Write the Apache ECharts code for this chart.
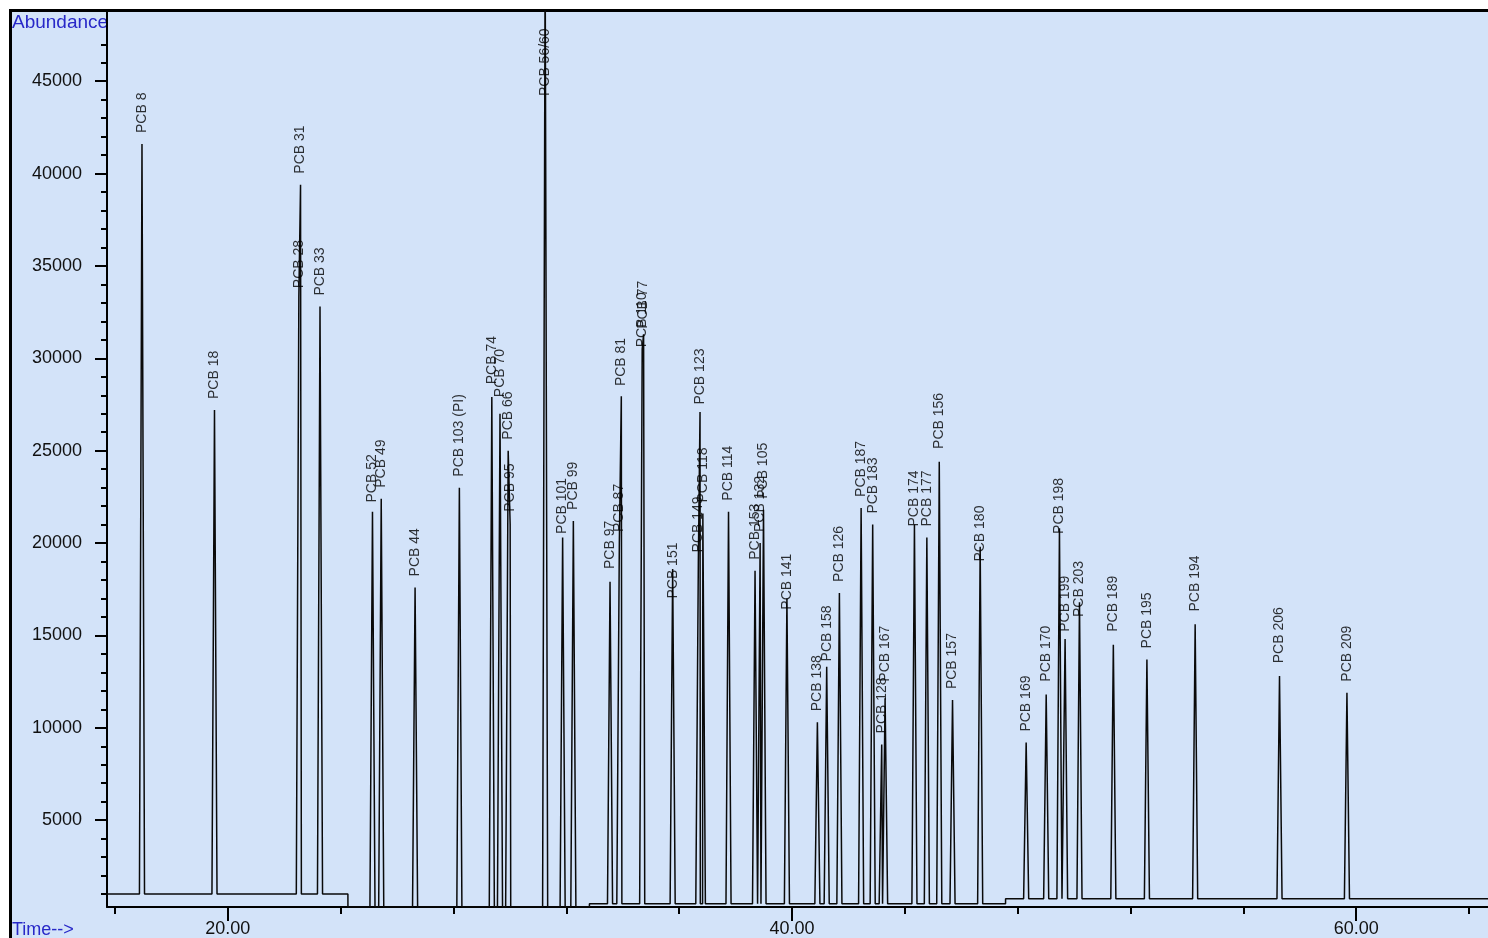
<!DOCTYPE html>
<html>
<head>
<meta charset="utf-8">
<script src="https://cdn.jsdelivr.net/npm/echarts@6/dist/echarts.min.js"></script>
<style>
  html, body { margin: 0; padding: 0; background: #ffffff; overflow: hidden; }
  #frame {
    position: absolute; left: 9px; top: 9px; width: 1500px; height: 950px;
    background: #d3e3f9; border-left: 3px solid #000; border-top: 3px solid #000;
  }
  #chart { position: absolute; left: 0; top: 0; width: 1488px; height: 938px; }
</style>
</head>
<body>
<div id="frame"></div>
<div id="chart"></div>
<script>
// Named congener peaks: label, retention time (min), apex abundance of the trace,
// and the abundance at which the software wrote each name
const peakNames = [
  'PCB 8', 'PCB 18', 'PCB 28', 'PCB 31', 'PCB 33', 'PCB 52', 'PCB 49', 'PCB 44',
  'PCB 103 (PI)', 'PCB 74', 'PCB 70', 'PCB 66', 'PCB 95', 'PCB 56/60', 'PCB 101',
  'PCB 99', 'PCB 97', 'PCB 87', 'PCB 81', 'PCB 110', 'PCB 77', 'PCB 151', 'PCB 149',
  'PCB 123', 'PCB 118', 'PCB 114', 'PCB 153', 'PCB 132', 'PCB 105', 'PCB 141',
  'PCB 138', 'PCB 158', 'PCB 126', 'PCB 187', 'PCB 183', 'PCB 128', 'PCB 167',
  'PCB 174', 'PCB 177', 'PCB 156', 'PCB 157', 'PCB 180', 'PCB 169', 'PCB 170',
  'PCB 198', 'PCB 199', 'PCB 203', 'PCB 189', 'PCB 195', 'PCB 194', 'PCB 206', 'PCB 209'
];
const peakTimes = [
  16.96, 19.53, 22.52, 22.58, 23.27, 25.13, 25.44, 26.64,
  28.21, 29.36, 29.65, 29.94, 30.01, 31.25, 31.87,
  32.25, 33.55, 33.88, 33.95, 34.69, 34.74, 35.77, 36.68,
  36.74, 36.84, 37.75, 38.69, 38.87, 38.99, 39.82,
  40.90, 41.23, 41.68, 42.45, 42.86, 43.18, 43.30,
  44.34, 44.78, 45.22, 45.69, 46.67, 48.30, 49.01,
  49.48, 49.68, 50.19, 51.39, 52.58, 54.29, 57.28, 59.67
];
const peakHeights = [
  41600, 27200, 33300, 39400, 32800, 21700, 22400, 17600,
  23000, 27900, 27000, 25000, 21000, 52000, 20300,
  21200, 17900, 20000, 27950, 30500, 31300, 18600, 18900,
  27100, 21600, 21700, 18500, 20000, 21800, 17000,
  10300, 13300, 17300, 21900, 21000, 9100, 11600,
  21000, 20300, 24400, 11500, 19800, 9200, 11800,
  20800, 14800, 16800, 14500, 13700, 15600, 12800, 11900
];
const labelHeights = [
  41600, 27200, 33200, 39400, 32800, 21600, 22400, 17600,
  23000, 28000, 27300, 25000, 21100, 43600, 19900,
  21200, 18000, 20000, 27900, 30000, 31000, 16400, 18900,
  26900, 21600, 21700, 18500, 20000, 21800, 15800,
  10300, 13000, 17300, 21900, 21000, 9100, 11900,
  20300, 20300, 24500, 11500, 18400, 9200, 11900,
  19900, 14600, 15400, 14600, 13700, 15700, 12900, 11900
];

// Baseline level of the trace, starting at each time
const baseStarts = [15.72, 24.26, 32.82, 47.57];
const baseLevels = [1000, 300, 480, 750];

// Axis ticks
const xTickValues = [16, 20, 24, 28, 32, 36, 40, 44, 48, 52, 56, 60, 64];
const xLabelValues = [20, 40, 60];
const yTickValues = [1000, 2000, 3000, 4000, 5000, 6000, 7000, 8000, 9000, 10000,
  11000, 12000, 13000, 14000, 15000, 16000, 17000, 18000, 19000, 20000,
  21000, 22000, 23000, 24000, 25000, 26000, 27000, 28000, 29000, 30000,
  31000, 32000, 33000, 34000, 35000, 36000, 37000, 38000, 39000, 40000,
  41000, 42000, 43000, 44000, 45000, 46000, 47000];
const yLabelValues = [5000, 10000, 15000, 20000, 25000, 30000, 35000, 40000, 45000];

const X_MIN = 15.72, X_MAX = 64.67;
const Y_MIN = 300, Y_MAX = 48800;
const HALF_WIDTH = 0.09;      // half base width of a drawn peak, minutes

function baseAt(t) {
  let lv = baseLevels[0];
  for (let i = 0; i < baseStarts.length; i++) if (t >= baseStarts[i]) lv = baseLevels[i];
  return lv;
}

// Assemble the trace from baseline steps and peaks
const trace = [[X_MIN, baseAt(X_MIN)], [X_MAX, baseAt(X_MAX)]];
for (let i = 1; i < baseStarts.length; i++) {
  trace.push([baseStarts[i] - 0.001, baseLevels[i - 1]]);
  trace.push([baseStarts[i], baseLevels[i]]);
}
peakTimes.forEach((t, i) => {
  trace.push([t - HALF_WIDTH, baseAt(t - HALF_WIDTH)]);
  trace.push([t, peakHeights[i]]);
  trace.push([t + HALF_WIDTH, baseAt(t + HALF_WIDTH)]);
});
trace.sort((a, b) => a[0] - b[0]);

const labelPoints = peakTimes.map((t, i) => [t, labelHeights[i], peakNames[i]]);

const sans = "'Liberation Sans', Arial, sans-serif";
const ink = '#000000';

const chart = echarts.init(document.getElementById('chart'), null, { renderer: 'canvas' });
chart.setOption({
  animation: false,
  backgroundColor: 'transparent',
  grid: { left: 107, top: 11, right: 0, bottom: 30, containLabel: false },
  xAxis: [
    {
      type: 'value', min: X_MIN, max: X_MAX,
      axisLine: { show: true, onZero: false, lineStyle: { color: ink, width: 2 } },
      axisTick: { show: true, customValues: xTickValues, length: 7, lineStyle: { color: ink, width: 2 } },
      axisLabel: { show: false },
      splitLine: { show: false }
    },
    {
      type: 'value', min: X_MIN, max: X_MAX, position: 'bottom',
      axisLine: { show: false },
      axisTick: { show: true, customValues: xLabelValues, length: 14, lineStyle: { color: ink, width: 2 } },
      axisLabel: {
        show: true, customValues: xLabelValues, margin: 13,
        formatter: v => v.toFixed(2), color: '#111', fontFamily: sans, fontSize: 18
      },
      splitLine: { show: false }
    }
  ],
  yAxis: [
    {
      type: 'value', min: Y_MIN, max: Y_MAX,
      axisLine: { show: true, onZero: false, lineStyle: { color: ink, width: 2 } },
      axisTick: { show: true, customValues: yTickValues, length: 6, lineStyle: { color: ink, width: 2 } },
      axisLabel: { show: false },
      splitLine: { show: false }
    },
    {
      type: 'value', min: Y_MIN, max: Y_MAX, position: 'left',
      axisLine: { show: false },
      axisTick: { show: true, customValues: yLabelValues, length: 12, lineStyle: { color: ink, width: 2 } },
      axisLabel: {
        show: true, customValues: yLabelValues, margin: 25,
        formatter: v => String(v), color: '#111', fontFamily: sans, fontSize: 18
      },
      splitLine: { show: false }
    }
  ],
  graphic: [
    { type: 'text', left: 12, top: 13, silent: true,
      style: { text: 'Abundance', fill: '#2828c8', font: "19px 'Liberation Sans', Arial, sans-serif" } },
    { type: 'text', left: 12, top: 921, silent: true,
      style: { text: 'Time-->', fill: '#2828c8', font: "18px 'Liberation Sans', Arial, sans-serif" } }
  ],
  series: [
    {
      type: 'line', xAxisIndex: 0, yAxisIndex: 0, data: trace,
      showSymbol: false, symbol: 'none', clip: true, z: 3,
      lineStyle: { color: '#0a0a0a', width: 1.5 }
    },
    {
      type: 'scatter', xAxisIndex: 0, yAxisIndex: 0, data: labelPoints,
      symbolSize: 0, z: 4, silent: true,
      label: {
        show: true, position: 'top', distance: 11, rotate: 90,
        align: 'left', verticalAlign: 'middle',
        formatter: p => p.data[2], color: '#000', fontFamily: sans, fontSize: 14
      },
      labelLayout: { hideOverlap: false }
    }
  ]
});
</script>
</body>
</html>
